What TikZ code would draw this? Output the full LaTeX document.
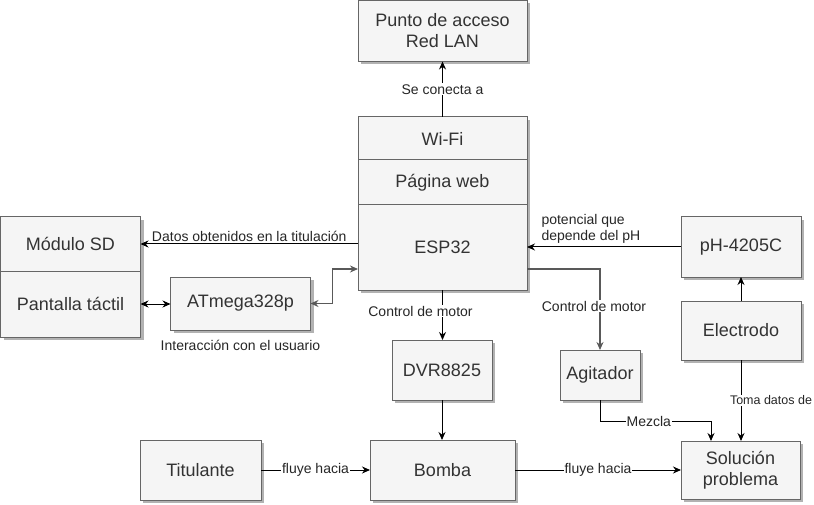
\documentclass[tikz,border=0pt]{standalone}
\usepackage{fontspec}
\setmainfont{Liberation Sans}
\usepackage{xcolor}
\usetikzlibrary{arrows.meta,positioning,shadows}
\definecolor{relleno}{HTML}{F5F5F5}
\definecolor{borde}{HTML}{666666}
\definecolor{texto}{HTML}{333333}
\tikzset{%
	bloque/.style   = {draw=borde, fill=relleno, rectangle, line width=1pt, inner sep=0pt, outer sep=0pt, text=texto, align=center, font=\fontsize{18}{21}\selectfont, drop shadow={shadow xshift=3pt, shadow yshift=-3pt, fill=black!30, opacity=1}},
	etiqueta/.style = {fill=white, inner sep=1pt, text=black!85, font=\fontsize{14}{16}\selectfont},
	flecha/.style   = {line width=1pt, -{Stealth[length=8pt,width=7pt]}},
	doble/.style    = {line width=1pt, {Stealth[length=8pt,width=7pt]}-{Stealth[length=8pt,width=7pt]}},
	gris/.style     = {draw=black!65, line width=1.4pt},
}
\begin{document}
\begin{tikzpicture}[x=1pt,y=-1pt]
	\useasboundingbox (0,0) rectangle (814,505);
	% bloques
	\node[bloque, minimum width=169pt, minimum height=61pt] (punto) at (442.5,31) {Punto de acceso\\Red LAN};
	\node[bloque, minimum width=169pt, minimum height=43pt] (wifi) at (442.5,138.5) {Wi-Fi};
	\node[bloque, minimum width=169pt, minimum height=45pt] (web) at (442.5,182.5) {Página web};
	\node[bloque, minimum width=169pt, minimum height=85pt] (esp) at (442.5,247.5) {ESP32};
	\node[bloque, minimum width=140pt, minimum height=54pt] (sd) at (70.5,244) {Módulo SD};
	\node[bloque, minimum width=140pt, minimum height=66pt] (pantalla) at (70.5,304) {Pantalla táctil};
	\node[bloque, minimum width=140pt, minimum height=53pt,
		label={[etiqueta, label distance=9pt]below:Interacción con el usuario}] (atmega) at (240.5,303.5) {ATmega328p};
	\node[bloque, minimum width=100pt, minimum height=60pt] (dvr) at (442,370) {DVR8825};
	\node[bloque, minimum width=80pt, minimum height=50pt] (agitador) at (600,375) {Agitador};
	\node[bloque, minimum width=120pt, minimum height=60pt] (ph) at (741,247) {pH-4205C};
	\node[bloque, minimum width=120pt, minimum height=59pt] (electrodo) at (741,330.5) {Electrodo};
	\node[bloque, minimum width=121pt, minimum height=60pt] (titulante) at (200.5,470) {Titulante};
	\node[bloque, minimum width=145pt, minimum height=60pt] (bomba) at (442.5,470) {Bomba};
	\node[bloque, minimum width=119pt, minimum height=58pt] (solucion) at (740.5,470) {Solución\\problema};
	% conexiones
	\draw[flecha] (wifi) -- node[etiqueta] {Se conecta a} (punto);
	\draw[flecha] (esp.west |- sd.east) -- node[etiqueta, above=1pt] {Datos obtenidos en la titulación} (sd.east);
	\draw[flecha] (ph.west) -- (esp.east |- ph.west)
		node[etiqueta, anchor=south west, align=left, xshift=14pt, yshift=3pt, inner sep=0pt] {potencial que\\depende del pH};
	\draw[doble] (pantalla.east) -- (pantalla.east -| atmega.west);
	\draw[doble, gris] (atmega.east) -- ++(22,0) |- ([yshift=-21.5pt]esp.west);
	\draw[flecha] (esp.south) -- node[etiqueta, xshift=-22pt, pos=0.42] {Control de motor} (esp.south |- dvr.north);
	\draw[flecha, gris] ([yshift=-21.5pt]esp.east) -| node[etiqueta, pos=0.73, xshift=-6pt] {Control de motor} (agitador.north);
	\draw[flecha] (dvr.south) -- (dvr.south |- bomba.north);
	\draw[flecha] (titulante) -- node[etiqueta] {fluye hacia} (bomba);
	\draw[flecha] (bomba) -- node[etiqueta] {fluye hacia} (solucion);
	\draw[flecha] (electrodo.north) -- (ph.south);
	\draw[flecha] (electrodo.south) -- node[etiqueta, xshift=30pt, font=\fontsize{12.5}{14}\selectfont] {Toma datos de} (electrodo.south |- solucion.north);
	\draw[flecha] (agitador.south) -- ++(0,21) -| node[etiqueta, pos=0.22] {Mezcla} ([xshift=-29.5pt]solucion.north);
\end{tikzpicture}
\end{document}
